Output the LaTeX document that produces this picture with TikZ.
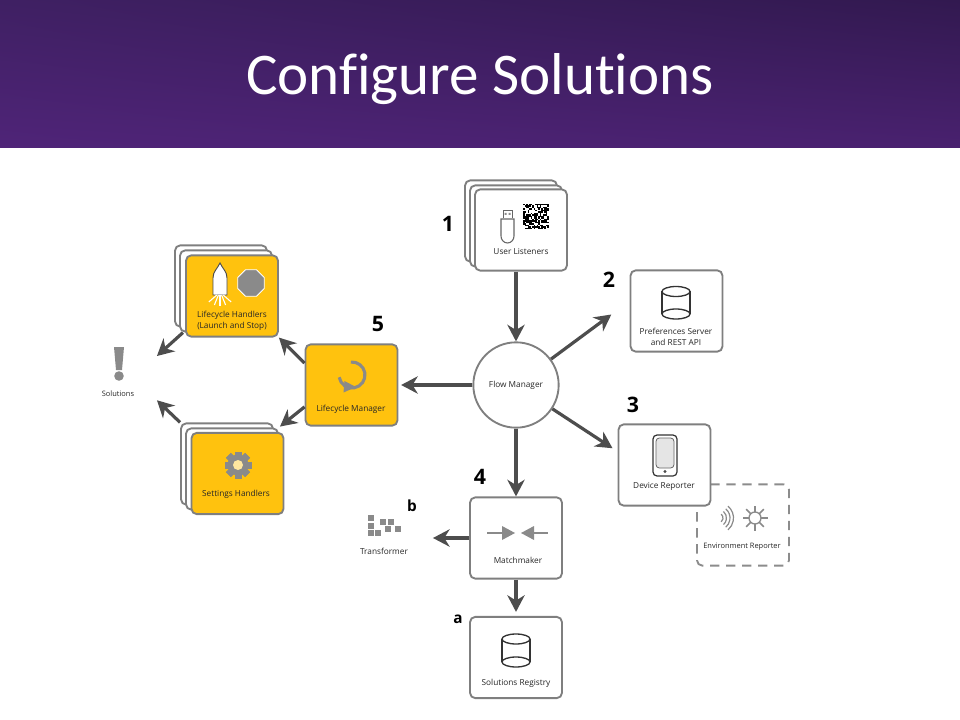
\documentclass[tikz,border=0pt]{standalone}
\usepackage{fontspec}
\setmainfont{Open Sans}
\newfontfamily\titlefont[Ligatures=NoCommon]{Carlito}
\usetikzlibrary{arrows.meta,shapes.geometric,shadings}
\definecolor{cardgray}{HTML}{7F7F7F}
\definecolor{arrowgray}{HTML}{4D4D4D}
\definecolor{icongray}{HTML}{8A8A8A}
\definecolor{cardyellow}{HTML}{FFC20E}
\definecolor{barul}{HTML}{3F2063}
\definecolor{barur}{HTML}{321950}
\definecolor{barll}{HTML}{4F2478}
\definecolor{barlr}{HTML}{49216F}
\begin{document}
\begin{tikzpicture}[x=0.75pt,y=-0.75pt,
  card/.style={draw=cardgray, line width=1.4pt, rounded corners=4pt, fill=white, minimum width=69pt, minimum height=61pt, inner sep=0pt},
  yellowcard/.style={card, fill=cardyellow},
  dashedcard/.style={card, draw=black!45, dash pattern=on 7pt off 5pt},
  hub/.style={circle, draw=cardgray, line width=1.4pt, fill=white, minimum size=64pt, inner sep=0pt, font=\fontsize{6.2}{8.4}\selectfont, text=black!85},
  spot/.style={inner sep=0pt, minimum width=58pt, minimum height=45pt},
  cardtext/.style={font=\fontsize{6.2}{8.4}\selectfont, text=black!85, align=center, inner sep=0pt},
  smalltext/.style={cardtext, font=\fontsize{5.6}{8}\selectfont},
  stepnum/.style={font=\fontsize{16}{16}\selectfont\bfseries, text=black, inner sep=0pt},
  subnum/.style={font=\fontsize{11.5}{12}\selectfont\bfseries, text=black, inner sep=0pt},
  flow/.style={-{Stealth[length=12.5pt,width=13pt,inset=4pt]}, draw=arrowgray, line width=2.4pt},
  iconline/.style={draw=black!80, line width=1pt}
]
\useasboundingbox (0,0) rectangle (960,720);
\shade[upper left=barul, upper right=barur, lower left=barll, lower right=barlr] (0,0) rectangle (960,148);
\node[text=white, font=\titlefont\fontsize{44.3}{44}\selectfont, inner sep=0pt] (title) at (480,79) {Configure Solutions};

% stacked cards
\node[card] (handlersback) at (221,286) {};
\node[card] (handlersmid) at (226,291) {};
\node[yellowcard] (handlers) at (232,296) {};
\node[card] (settingsback) at (227,464) {};
\node[card] (settingsmid) at (232,469) {};
\node[yellowcard] (settings) at (237.5,473.5) {};
\node[card] (usersback) at (511,221) {};
\node[card] (usersmid) at (516,226) {};
\node[card] (users) at (521,230) {};

% single cards
\node[yellowcard] (manager) at (351.5,385) {};
\node[card] (prefs) at (676.5,311) {};
\node[dashedcard] (environment) at (743,525) {};
\node[card] (device) at (664.5,465) {};
\node[card] (matcher) at (516,538) {};
\node[card] (registry) at (516,657.5) {};
\node[hub] (flowhub) at (516,385) {Flow Manager};
\node[spot] (solutions) at (118,375) {};
\node[spot] (transformer) at (394,538) {};

% connectors
\draw[flow] (flowhub |- users.south) -- (flowhub.north);
\draw[flow, shorten >=17pt] (flowhub) -- (prefs.168);
\draw[flow, shorten >=4.5pt] (flowhub) -- (device.164);
\draw[flow] (flowhub) -- (matcher);
\draw[flow, shorten >=2pt] (flowhub) -- (manager);
\draw[flow, shorten >=3pt] (matcher) -- (registry);
\draw[flow] (matcher) -- (transformer);
\draw[flow] (manager.155) -- (handlers.south east);
\draw[flow, shorten >=1pt] (manager.205) -- (settingsmid.north east);
\draw[flow] (handlersmid.224) -- (solutions.26);
\draw[flow] (settingsback.north west) -- (solutions.-33);

% numbers
\node[stepnum] (num1) at (448,224) {1};
\node[stepnum] (num2) at (609,280) {2};
\node[stepnum] (num3) at (633,405) {3};
\node[stepnum] (num4) at (480,477) {4};
\node[stepnum] (num5) at (378,324) {5};
\node[subnum] (numa) at (458,619) {a};
\node[subnum] (numb) at (412,506) {b};

% card texts
\node[cardtext] (userstext) at (521,252) {User Listeners};
\node[cardtext] (handlerstext) at (232,320.5) {Lifecycle Handlers\\(Launch and Stop)};
\node[cardtext] (managertext) at (351,409) {Lifecycle Manager};
\node[cardtext] (settingstext) at (236,494) {Settings Handlers};
\node[smalltext] (solutionstext) at (118,394) {Solutions};
\node[cardtext] (prefstext) at (676,337) {Preferences Server\\and REST API};
\node[cardtext] (devicetext) at (664,486) {Device Reporter};
\node[smalltext] (environmenttext) at (742,547) {Environment Reporter};
\node[cardtext] (matchertext) at (518,560) {Matchmaker};
\node[cardtext] (registrytext) at (516,683) {Solutions Registry};
\node[cardtext] (transformertext) at (384,551) {Transformer};

% usb stick and code
\draw[draw=black!60, line width=.8pt, fill=white] (501,219) -- (501,236) to[out=-90,in=180] (507.5,243) to[out=0,in=-90] (514,236) -- (514,219) -- cycle;
\draw[draw=black!60, line width=.7pt] (503,218.5) -- (503,210.5) -- (512,210.5) -- (512,218.5);
\fill[black!45] (504.5,213) rectangle ++(2,2) (508.5,213) rectangle ++(2,2);
\pgfmathsetseed{7}
\fill[black] (523,204) rectangle (549,229);
\foreach \i in {0,...,16}{
  \foreach \j in {0,...,16}{
    \pgfmathparse{rnd}
    \ifdim\pgfmathresult pt<0.38pt
      \fill[white] (523+1.53*\i,204+1.47*\j) rectangle ++(1.53,1.47);
    \fi
  }
}

% databases
\foreach \cx/\top/\bot in {676/291.5/314, 516/639/662}{
  \draw[iconline] (\cx-14,\top) -- (\cx-14,\bot) (\cx+14,\top) -- (\cx+14,\bot);
  \draw[iconline] (\cx,\top) ellipse (14 and 5);
  \draw[iconline] (\cx,\bot) ellipse (14 and 5);
}

% phone
\draw[iconline, rounded corners=3pt, line width=.9pt] (653,435) rectangle (677,476);
\draw[draw=black!60, fill=black!10, rounded corners=2.5pt, line width=.6pt] (656,438) rectangle (674,468);
\fill[black!70] (665,471.5) circle (1.6);

% waves and sun
\foreach \r in {5,8.5,12,15.5}{
  \draw[icongray, line width=.9pt] (718,518) ++(-50:\r) arc (-50:50:\r);
}
\draw[icongray, line width=1pt] (755,518) circle (6);
\foreach \a in {0,45,...,315}{
  \draw[icongray, line width=1.1pt] (755,518) ++(\a:6) -- ++(\a:6.5);
}

% rocket and stop sign
\draw[draw=black!70, fill=white, line width=.7pt] (220,263) to[out=-65,in=90] (227,278) -- (227,295) -- (213,295) -- (213,278) to[out=90,in=-115] cycle;
\foreach \fx/\fy in {-8/7,-4/10,0/11,4/10,8/7}{
  \draw[white, line width=.8pt] (220+\fx*.4,295) -- ++(\fx,\fy);
}
\node[regular polygon, regular polygon sides=8, fill=icongray, draw=white, line width=.6pt, minimum size=21.5pt, inner sep=0pt] (stopsign) at (251,283) {};

% refresh
\draw[icongray, line width=2.3pt] (352,375) ++(170:13) arc (170:-95:13);
\fill[icongray] (343.5,392.5) -- (344.5,381) -- (356,387) -- cycle;

% gear
\foreach \a in {0,45,...,315}{
  \fill[icongray, rotate around={\a:(238,465)}] (234.5,451.5) rectangle (241.5,478.5);
}
\fill[icongray] (238,465) circle (10.5);
\fill[cardyellow!40!white] (238,465) circle (5);

% matchmaker arrows
\draw[icongray, line width=1pt] (487,533) -- (503,533) (533,533) -- (548,533);
\fill[icongray] (502,526) -- (515,533) -- (502,540) -- cycle;
\fill[icongray] (534,526) -- (521,533) -- (534,540) -- cycle;

% transformer blocks
\foreach \bx/\by in {371/518,371/525.5,371/533,378/533,383/522,391/522,388/529,398/529}{
  \fill[icongray] (\bx-3,\by-3) rectangle (\bx+3,\by+3);
}

% exclamation mark
\fill[icongray] (114,347) -- (124,347) -- (122,370) -- (116,370) -- cycle;
\fill[icongray] (119,376) circle (4.8);
\end{tikzpicture}
\end{document}
